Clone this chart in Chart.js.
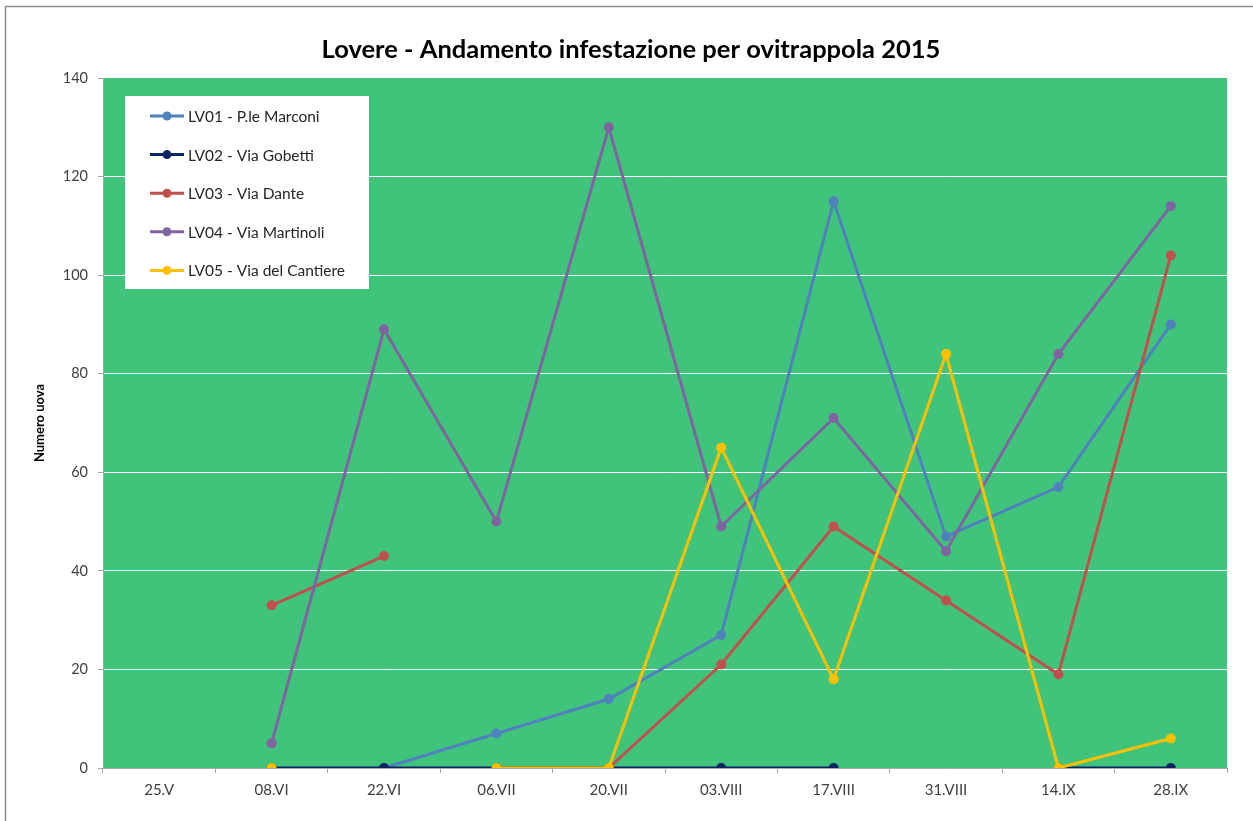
<!DOCTYPE html>
<html>
<head>
<meta charset="utf-8">
<script src="https://cdn.jsdelivr.net/npm/chart.js@4/dist/chart.umd.min.js"></script>
<style>
  html, body { margin: 0; padding: 0; background: #fff; }
  #wrap { position: absolute; left: 0; top: 0; width: 1253px; height: 821px; }
</style>
</head>
<body>
<div id="wrap"><canvas id="chart"></canvas></div>
<script>
// categories (sampling dates)
const dates = ['25.V', '08.VI', '22.VI', '06.VII', '20.VII', '03.VIII', '17.VIII', '31.VIII', '14.IX', '28.IX'];

// eggs per trap, null = no reading
const lv01 = [null, null, 0, 7, 14, 27, 115, 47, 57, 90];
const lv02 = [null, 0, 0, 0, 0, 0, 0, null, 0, 0];
const lv03 = [null, 33, 43, null, 0, 21, 49, 34, 19, 104];
const lv04 = [null, 5, 89, 50, 130, 49, 71, 44, 84, 114];
const lv05 = [null, 0, null, 0, 0, 65, 18, 84, 0, 6];

const seriesNames = ['LV01 - P.le Marconi', 'LV02 - Via Gobetti', 'LV03 - Via Dante', 'LV04 - Via Martinoli', 'LV05 - Via del Cantiere'];
const seriesColors = ['#4F81BD', '#0C2461', '#C0504D', '#8064A2', '#FFC000'];
const yTicks = [0, 20, 40, 60, 80, 100, 120, 140];

const FONT = 'Lato, "Open Sans", sans-serif';
const PLOT_BG = '#40C47C';
const AXIS_GREY = '#A6A6A6';

// green plot area + outer frame
const plotBackground = {
  id: 'plotBackground',
  beforeDraw(chart) {
    const { ctx, chartArea: a } = chart;
    ctx.save();
    ctx.fillStyle = PLOT_BG;
    ctx.fillRect(a.left, a.top, a.right - a.left, a.bottom - a.top);
    ctx.strokeStyle = '#8C8C8C';
    ctx.lineWidth = 1.5;
    ctx.beginPath();
    ctx.moveTo(5.5, chart.height + 5);
    ctx.lineTo(5.5, 6.5);
    ctx.lineTo(chart.width + 5, 6.5);
    ctx.stroke();
    ctx.restore();
  }
};

// boxed legend inside the plot, like the spreadsheet one
const boxLegend = {
  id: 'boxLegend',
  afterDraw(chart) {
    const { ctx } = chart;
    const x = 125, y = 96, w = 244, h = 193, step = 38.6;
    ctx.save();
    ctx.fillStyle = '#fff';
    ctx.fillRect(x, y, w, h);
    ctx.font = '15.5px ' + FONT;
    ctx.textBaseline = 'middle';
    chart.data.datasets.forEach((ds, i) => {
      const cy = y + 20 + i * step;
      ctx.strokeStyle = ds.borderColor;
      ctx.lineWidth = 3;
      ctx.beginPath();
      ctx.moveTo(150, cy);
      ctx.lineTo(184, cy);
      ctx.stroke();
      ctx.fillStyle = ds.borderColor;
      ctx.beginPath();
      ctx.arc(167, cy, 4.5, 0, Math.PI * 2);
      ctx.fill();
      ctx.fillStyle = '#262626';
      ctx.fillText(ds.label, 188, cy + 1);
    });
    ctx.restore();
  }
};

const allSeries = [lv01, lv02, lv03, lv04, lv05];

new Chart(document.getElementById('chart'), {
  type: 'line',
  data: {
    labels: dates,
    datasets: allSeries.map((vals, i) => ({
      label: seriesNames[i],
      data: vals,
      borderColor: seriesColors[i],
      backgroundColor: seriesColors[i],
      borderWidth: 3,
      pointRadius: 5,
      pointBorderWidth: 0,
      pointHoverRadius: 5,
      tension: 0,
      spanGaps: false,
      order: allSeries.length - 1 - i, // later series on top
    })),
  },
  options: {
    responsive: true,
    maintainAspectRatio: false,
    animation: false,
    layout: { padding: { top: 78, right: 26, left: 0, bottom: 0 } },
    plugins: {
      legend: { display: false },
      tooltip: { enabled: false },
      title: { display: false },
    },
    scales: {
      x: {
        offset: true,
        afterFit(scale) { scale.height = 53; },
        grid: {
          drawOnChartArea: false,
          tickColor: AXIS_GREY,
          tickLength: 5,
          offset: true,
        },
        border: { color: AXIS_GREY, width: 1 },
        ticks: {
          color: '#404040',
          font: { family: FONT, size: 15 },
          padding: 8,
          maxRotation: 0,
          autoSkip: false,
        },
      },
      y: {
        min: 0,
        max: 140,
        afterFit(scale) { scale.width = 103; },
        afterBuildTicks(scale) { scale.ticks = yTicks.map(v => ({ value: v })); },
        grid: {
          color: ctx => (ctx.tick && ctx.tick.value === 140 ? 'rgba(0,0,0,0)' : '#FFFFFF'),
          tickColor: AXIS_GREY,
          tickLength: 5,
          lineWidth: 1,
        },
        border: { color: AXIS_GREY, width: 1 },
        ticks: {
          color: '#404040',
          font: { family: FONT, size: 14.5 },
          padding: 10,
        },
        title: {
          display: true,
          text: 'Numero uova',
          color: '#000',
          font: { family: FONT, size: 13, weight: 'bold' },
          padding: { top: 32, bottom: 0 },
        },
      },
    },
  },
  plugins: [plotBackground, boxLegend, {
    id: 'mainTitle',
    afterDraw(chart) {
      const { ctx } = chart;
      ctx.save();
      ctx.font = 'bold 25.5px ' + FONT;
      ctx.fillStyle = '#000';
      ctx.textAlign = 'center';
      ctx.textBaseline = 'middle';
      ctx.fillText('Lovere - Andamento infestazione per ovitrappola 2015', 631, 50);
      ctx.restore();
    }
  }],
});
</script>
</body>
</html>
